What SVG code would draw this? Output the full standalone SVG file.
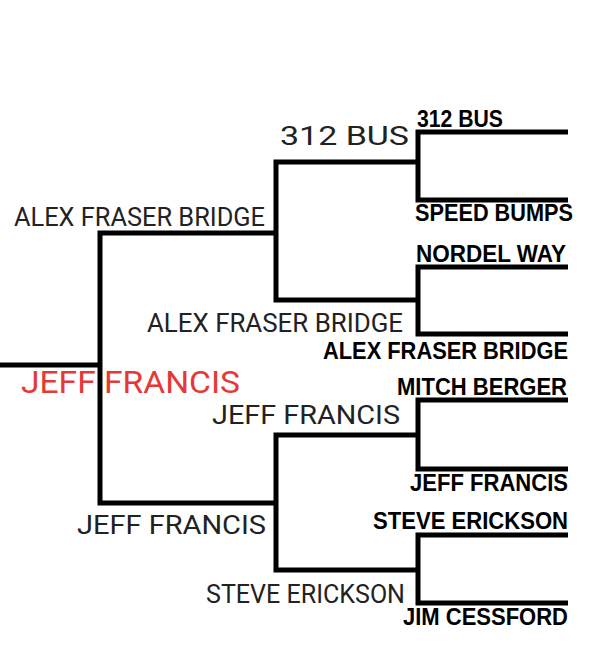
<svg xmlns="http://www.w3.org/2000/svg" width="612" height="650" viewBox="0 0 612 650">
<style>
.ln{fill:none;stroke:#000;stroke-width:5;stroke-linejoin:miter;stroke-linecap:butt}
.rg{font-family:Roboto,"Liberation Sans",sans-serif;fill:#222;font-size:26px}
.bd{font-family:"Liberation Sans",Arial,sans-serif;font-weight:bold;fill:#000;font-size:23px}
.win{font-family:Roboto,"Liberation Sans",sans-serif;fill:#e53935;font-size:31px}
</style>
<rect width="612" height="650" fill="#fff"/>
<g id="connectors">
<path class="ln" d="M568,132 H418 V200 H568"/>
<path class="ln" d="M568,267 H418 V334 H568"/>
<path class="ln" d="M568,400 H418 V469 H568"/>
<path class="ln" d="M568,535 H418 V603 H568"/>
<path class="ln" d="M418,162 H276 V300 H418"/>
<path class="ln" d="M418,435 H276 V570 H418"/>
<path class="ln" d="M276,233 H100 V503 H276"/>
<path class="ln" d="M0,365 H100"/>
</g>
<g id="r1-312bus"><text class="bd" x="417" y="127" textLength="86" lengthAdjust="spacingAndGlyphs">312 BUS</text></g>
<g id="r1-speedbumps"><text class="bd" x="415" y="221" textLength="158" lengthAdjust="spacingAndGlyphs">SPEED BUMPS</text></g>
<g id="r1-nordelway"><text class="bd" x="416" y="262" textLength="150" lengthAdjust="spacingAndGlyphs">NORDEL WAY</text></g>
<g id="r1-alexfraser"><text class="bd" x="323" y="359" textLength="245" lengthAdjust="spacingAndGlyphs">ALEX FRASER BRIDGE</text></g>
<g id="r1-mitchberger"><text class="bd" x="397" y="395" textLength="170" lengthAdjust="spacingAndGlyphs">MITCH BERGER</text></g>
<g id="r1-jefffrancis"><text class="bd" x="410" y="491" textLength="158" lengthAdjust="spacingAndGlyphs">JEFF FRANCIS</text></g>
<g id="r1-steveerickson"><text class="bd" x="373" y="529" textLength="195" lengthAdjust="spacingAndGlyphs">STEVE ERICKSON</text></g>
<g id="r1-jimcessford"><text class="bd" x="403" y="625" textLength="165" lengthAdjust="spacingAndGlyphs">JIM CESSFORD</text></g>
<g id="r2-312bus"><text class="rg" x="280" y="145" font-size="33" textLength="129" lengthAdjust="spacingAndGlyphs">312 BUS</text></g>
<g id="r2-alexfraser"><text class="rg" x="147" y="332" textLength="256" lengthAdjust="spacingAndGlyphs">ALEX FRASER BRIDGE</text></g>
<g id="r2-jefffrancis"><text class="rg" x="212" y="424" textLength="188" lengthAdjust="spacingAndGlyphs">JEFF FRANCIS</text></g>
<g id="r2-steveerickson"><text class="rg" x="206" y="603" textLength="199" lengthAdjust="spacingAndGlyphs">STEVE ERICKSON</text></g>
<g id="r3-alexfraser"><text class="rg" x="14" y="226" textLength="251" lengthAdjust="spacingAndGlyphs">ALEX FRASER BRIDGE</text></g>
<g id="r3-jefffrancis"><text class="rg" x="77" y="534" textLength="189" lengthAdjust="spacingAndGlyphs">JEFF FRANCIS</text></g>
<g id="champion"><text class="win" x="21" y="393" textLength="219" lengthAdjust="spacingAndGlyphs">JEFF FRANCIS</text></g>
</svg>
